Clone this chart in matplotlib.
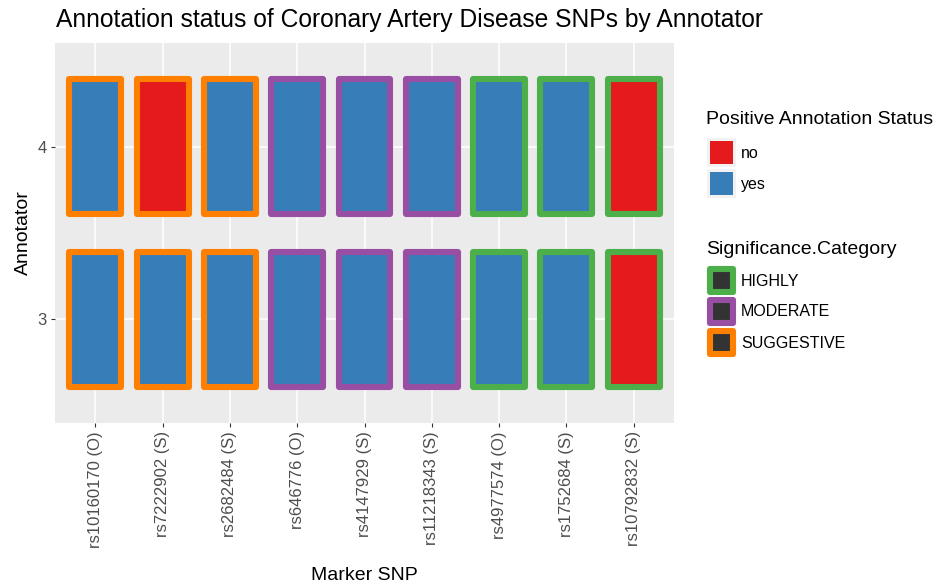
import matplotlib.pyplot as plt
from matplotlib.patches import Rectangle

plt.rcParams['font.family'] = ['Liberation Sans', 'DejaVu Sans']

# data
snps = ['rs10160170 (O)', 'rs7222902 (S)', 'rs2682484 (S)', 'rs646776 (O)',
        'rs4147929 (S)', 'rs11218343 (S)', 'rs4977574 (O)', 'rs1752684 (S)',
        'rs10792832 (S)']
category = ['SUGGESTIVE', 'SUGGESTIVE', 'SUGGESTIVE', 'MODERATE', 'MODERATE',
            'MODERATE', 'HIGHLY', 'HIGHLY', 'HIGHLY']
annotators = [3, 4]
status_3 = ['yes', 'yes', 'yes', 'yes', 'yes', 'yes', 'yes', 'yes', 'no']
status_4 = ['yes', 'no', 'yes', 'yes', 'yes', 'yes', 'yes', 'yes', 'no']

fill_colors = {'no': '#E41A1C', 'yes': '#377EB8'}
edge_colors = {'HIGHLY': '#4DAF4A', 'MODERATE': '#984EA3', 'SUGGESTIVE': '#FF7F00'}

W, H = 937, 584
fig = plt.figure(figsize=(W / 100, H / 100), dpi=100)


def px_axes(x0, y0, x1, y1):
    return fig.add_axes([x0 / W, 1 - y1 / H, (x1 - x0) / W, (y1 - y0) / H])


ax = px_axes(55, 43, 674, 423)
ax.set_facecolor('#EBEBEB')
for s in ax.spines.values():
    s.set_visible(False)

for ann, statuses in zip(annotators, [status_3, status_4]):
    for i, (st, cat) in enumerate(zip(statuses, category)):
        ax.add_patch(Rectangle((i + 1 - 0.385, ann - 0.39), 0.77, 0.78,
                               facecolor=fill_colors[st], edgecolor=edge_colors[cat],
                               linewidth=4.4, joinstyle='round', zorder=3))

ax.set_xlim(0.4, 9.6)
ax.set_ylim(2.4, 4.6)
ax.set_xticks(range(1, len(snps) + 1))
ax.set_xticklabels(snps, rotation=90, fontsize=12, color='#4D4D4D')
ax.set_yticks(annotators)
ax.set_yticklabels([str(a) for a in annotators], fontsize=12, color='#4D4D4D')
ax.tick_params(length=3, color='#333333', width=0.8, pad=3)
ax.grid(True, color='white', linewidth=1.1, zorder=0)
ax.set_axisbelow(True)
ax.set_xlabel('Marker SNP', fontsize=14, labelpad=14)
ax.set_ylabel('Annotator', fontsize=14, labelpad=4)

fig.text(56 / W, 1 - 20 / H, 'Annotation status of Coronary Artery Disease SNPs by Annotator',
         fontsize=17.7, va='center', ha='left')

# legends drawn in pixel coordinates
lg = px_axes(700, 100, 937, 370)
lg.set_xlim(700, 937)
lg.set_ylim(370, 100)
lg.axis('off')

lg.text(706, 120, 'Positive Annotation Status', fontsize=14, va='center', ha='left')
for k, (lab, col) in enumerate(fill_colors.items()):
    y = 138 + k * 31
    lg.add_patch(Rectangle((707, y), 29, 29, facecolor='#F2F2F2', edgecolor='none'))
    lg.add_patch(Rectangle((710, y + 3), 23, 23, facecolor=col, edgecolor='none'))
    lg.text(741, y + 15, lab, fontsize=11.5, va='center', ha='left')

lg.text(706, 250, 'Significance.Category', fontsize=14, va='center', ha='left')
for k, (lab, col) in enumerate(edge_colors.items()):
    y = 266 + k * 31
    lg.add_patch(Rectangle((707, y), 29, 29, facecolor='#F2F2F2', edgecolor='none'))
    lg.add_patch(Rectangle((710, y + 3), 23, 23, facecolor='#333333', edgecolor=col,
                           linewidth=4.4, joinstyle='round'))
    lg.text(741, y + 15, lab, fontsize=11.5, va='center', ha='left')

fig.savefig('out.png', dpi=100)
